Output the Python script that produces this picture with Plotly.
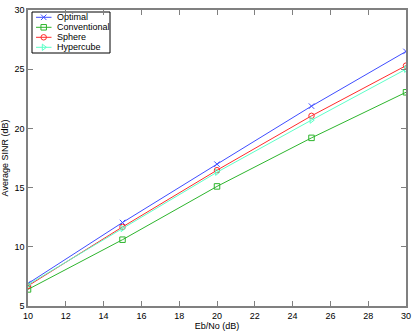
import plotly.graph_objects as go

ebno = [10, 15, 20, 25, 30]
optimal = [6.9, 12.05, 16.98, 21.88, 26.5]
conventional = [6.4, 10.6, 15.1, 19.2, 23.05]
sphere = [6.7, 11.68, 16.47, 21.06, 25.3]
hypercube = [6.8, 11.55, 16.3, 20.7, 25.0]

x_ticks = list(range(10, 31, 2))
y_ticks = [5, 10, 15, 20, 25, 30]

series = [
    ("Optimal", optimal, "#3f4dff", "x-thin-open"),
    ("Conventional", conventional, "#2db52d", "square-open"),
    ("Sphere", sphere, "#ff2b2b", "circle-open"),
    ("Hypercube", hypercube, "#5dffc8", "triangle-right-open"),
]

W, H = 415, 331
L, R, T, B = 28, 9, 10, 25

fig = go.Figure()
for name, ys, color, sym in series:
    fig.add_trace(go.Scatter(
        x=ebno, y=ys, name=name, mode="lines+markers", showlegend=False,
        line=dict(color=color, width=1),
        marker=dict(symbol=sym, size=5.5, color=color, line=dict(color=color, width=1)),
    ))

# hand-made legend (MATLAB style, compact rows) on a pixel-based overlay axis
lx0, lx1, ly0, ly1 = 32, 110, 12, 53
row0, row_h = 17.3, 10
for i, (name, ys, color, sym) in enumerate(series):
    yy = row0 + i * row_h
    fig.add_trace(go.Scatter(
        x=[36, 51.5], y=[yy, yy], xaxis="x2", yaxis="y2", mode="lines",
        line=dict(color=color, width=1), showlegend=False, hoverinfo="skip"))
    fig.add_trace(go.Scatter(
        x=[43.7], y=[yy], xaxis="x2", yaxis="y2", mode="markers",
        marker=dict(symbol=sym, size=5.5, color=color, line=dict(color=color, width=1)),
        showlegend=False, hoverinfo="skip"))
    fig.add_annotation(x=55, y=yy, xref="x2", yref="y2", text=name, showarrow=False,
                       xanchor="left", yanchor="middle", font=dict(size=9, color="#000000"))
fig.add_shape(type="rect", xref="x2", yref="y2", x0=lx0, x1=lx1, y0=ly0, y1=ly1,
              line=dict(color="#000000", width=1), layer="below")

axis_style = dict(
    showgrid=False, zeroline=False, showline=True, mirror="allticks",
    linecolor="#808080", linewidth=1.5, ticks="inside", ticklen=5,
    tickcolor="#808080", tickfont=dict(size=9, color="#000000"), automargin=False,
)

fig.update_layout(
    width=W, height=H,
    margin=dict(l=L, r=R, t=T, b=B),
    plot_bgcolor="white", paper_bgcolor="white",
    font=dict(family="Liberation Sans, Arial, sans-serif", size=9, color="#000000"),
    showlegend=False,
    xaxis=dict(range=[10, 30], tickvals=x_ticks,
               title=dict(text="Eb/No (dB)", font=dict(size=9), standoff=2), **axis_style),
    yaxis=dict(range=[5, 30], tickvals=y_ticks,
               title=dict(text="Average SINR (dB)", font=dict(size=9), standoff=4), **axis_style),
    xaxis2=dict(overlaying="x", range=[L, W - R], visible=False, fixedrange=True),
    yaxis2=dict(overlaying="y", range=[H - B, T], visible=False, fixedrange=True),
)

# the page's default body margin would shift the figure by 8px
fig.write_html("out.html", config={"displayModeBar": False},
               post_script="document.body.style.margin='0';")
